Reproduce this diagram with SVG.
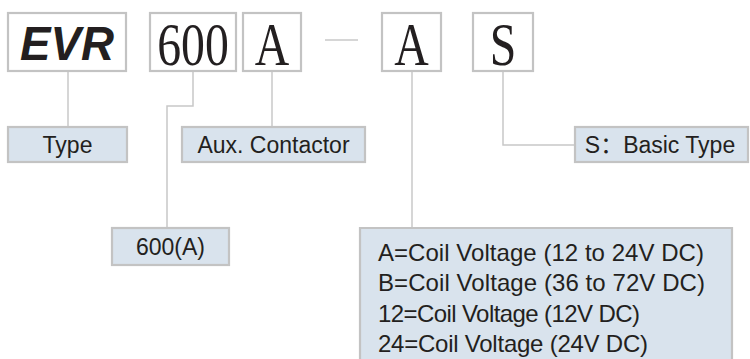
<svg xmlns="http://www.w3.org/2000/svg" width="750" height="359" viewBox="0 0 750 359">
<style>
.code{fill:#ffffff;stroke:#c3c3c3;stroke-width:2.2}
.lab{fill:#d9e3ed;stroke:#c3c3c3;stroke-width:2.2}
.t{font-family:"Liberation Sans",Arial,sans-serif;font-size:23px;fill:#231f20}
.c{font-family:"Liberation Sans",Arial,sans-serif;font-size:24px;fill:#231f20}
.ser{font-family:"Liberation Serif","Times New Roman",serif;font-size:62px;fill:#231f20}
.conn{fill:none;stroke:#c8c8c8;stroke-width:1.5}
</style>
<rect width="750" height="359" fill="#ffffff"/>
<g id="connectors">
<line class="conn" x1="68" y1="71" x2="68" y2="127"/>
<polyline class="conn" points="193,71 193,106 167,106 167,228"/>
<line class="conn" x1="272" y1="71" x2="272" y2="127"/>
<line class="conn" x1="325" y1="40" x2="358" y2="40"/>
<line class="conn" x1="412" y1="71" x2="412" y2="228"/>
<polyline class="conn" points="503,71 503,145 575,145"/>
</g>
<g id="code-evr">
<rect class="code" x="8" y="13" width="118" height="58"/>
<text x="67" y="60" text-anchor="middle" font-family="Liberation Sans,Arial,sans-serif" font-weight="bold" font-style="italic" font-size="49" fill="#231f20" textLength="94" lengthAdjust="spacingAndGlyphs">EVR</text>
</g>
<g id="code-600">
<rect class="code" x="150" y="13" width="86" height="58"/>
<text class="ser" transform="translate(193,65) scale(0.77,1)" text-anchor="middle">600</text>
</g>
<g id="code-a1">
<rect class="code" x="243" y="13" width="58" height="58"/>
<text class="ser" transform="translate(272,65) scale(0.77,1)" text-anchor="middle">A</text>
</g>
<g id="code-a2">
<rect class="code" x="382" y="13" width="59" height="58"/>
<text class="ser" transform="translate(411.5,65) scale(0.77,1)" text-anchor="middle">A</text>
</g>
<g id="code-s">
<rect class="code" x="473" y="13" width="60" height="58"/>
<text class="ser" transform="translate(503,65) scale(0.77,1)" text-anchor="middle">S</text>
</g>
<g id="label-type">
<rect class="lab" x="8" y="127" width="119" height="35"/>
<text class="t" x="67.5" y="153" text-anchor="middle">Type</text>
</g>
<g id="label-aux">
<rect class="lab" x="182" y="127" width="183" height="35"/>
<text class="t" x="273.5" y="153" text-anchor="middle">Aux. Contactor</text>
</g>
<g id="label-basic">
<rect class="lab" x="575" y="127" width="173" height="35"/>
<text class="t" x="660" y="153" text-anchor="middle">S<tspan font-family="Noto Sans CJK SC,sans-serif">：</tspan>Basic Type</text>
</g>
<g id="label-600a">
<rect class="lab" x="112" y="228" width="117" height="37"/>
<text class="t" x="170.5" y="255" text-anchor="middle">600(A)</text>
</g>
<g id="label-coil">
<path class="lab" d="M360,362 V228 H732 V362"/>
<text class="c" x="378" y="261" textLength="326" lengthAdjust="spacing">A=Coil Voltage (12 to 24V DC)</text>
<text class="c" x="378" y="291" textLength="327" lengthAdjust="spacing">B=Coil Voltage (36 to 72V DC)</text>
<text class="c" x="378" y="322" textLength="262" lengthAdjust="spacing">12=Coil Voltage (12V DC)</text>
<text class="c" x="378" y="352" textLength="270" lengthAdjust="spacing">24=Coil Voltage (24V DC)</text>
</g>
</svg>
